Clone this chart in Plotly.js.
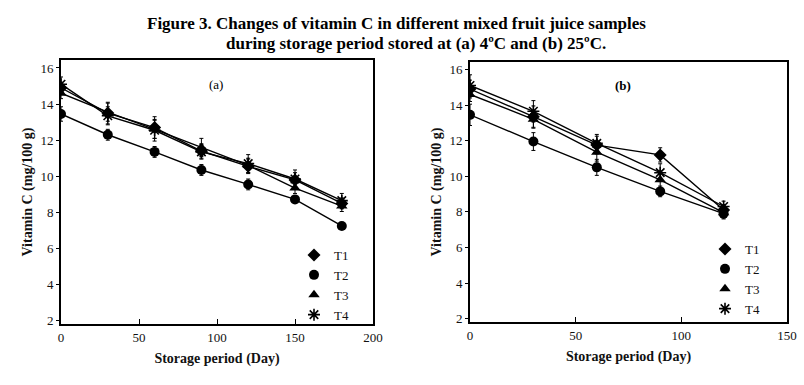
<!DOCTYPE html>
<html><head><meta charset="utf-8">
<script src="https://cdn.plot.ly/plotly-3.0.1.min.js"></script>
<style>html,body{margin:0;padding:0;background:#fff}#chart{width:804px;height:385px}</style>
</head><body><div id="chart"></div><script>
// Panel (a): stored at 4 C
const daysA = [0, 30, 60, 90, 120, 150, 180];
const t1A = [14.9, 13.5, 12.7, 11.4, 10.55, 9.8, 8.5];
const t2A = [13.45, 12.3, 11.35, 10.35, 9.55, 8.72, 7.25];
const t3A = [14.6, 13.55, 12.6, 11.6, 10.6, 9.35, 8.35];
const t4A = [15.1, 13.35, 12.55, 11.35, 10.7, 9.85, 8.65];
const e1A = [0.3, 0.6, 0.6, 0.4, 0.4, 0.4, 0.3];
const e2A = [0.4, 0.3, 0.3, 0.3, 0.3, 0.2, 0.15];
const e3A = [0.3, 0.5, 0.5, 0.5, 0.4, 0.3, 0.3];
const e4A = [0.4, 0.5, 0.6, 0.4, 0.5, 0.5, 0.4];
// Panel (b): stored at 25 C
const daysB = [0, 30, 60, 90, 120];
const t1B = [14.9, 13.35, 11.75, 11.2, 8.1];
const t2B = [13.45, 11.95, 10.5, 9.15, 7.9];
const t3B = [14.6, 13.2, 11.35, 9.8, 7.95];
const t4B = [15.1, 13.65, 11.85, 10.2, 8.3];
const e1B = [0.5, 0.6, 0.5, 0.4, 0.3];
const e2B = [0.6, 0.5, 0.45, 0.3, 0.3];
const e3B = [0.4, 0.5, 0.5, 0.5, 0.3];
const e4B = [0.6, 0.6, 0.5, 0.5, 0.3];
const seriesNames = ['T1', 'T2', 'T3', 'T4'];
const titleLine1 = 'Figure 3. Changes of vitamin C in different mixed fruit juice samples';
const titleLine2 = 'during storage period stored at (a) 4ºC and (b) 25ºC.';
const xTitle = 'Storage period (Day)';
const yTitle = 'Vitamin C (mg/100 g)';

const FONT = 'Liberation Serif, Times New Roman, serif';
const markers = [
  {symbol: 'diamond', size: 10},
  {symbol: 'circle', size: 10},
  {symbol: 'triangle-up', size: 10},
  {symbol: 'asterisk-open', size: 10}
];

function mk(x, y, e, i, xa, ya) {
  return {
    x: x, y: y, type: 'scatter', mode: 'lines+markers', name: seriesNames[i],
    showlegend: false, xaxis: xa, yaxis: ya,
    line: {color: '#000', width: 1.4},
    marker: {color: '#000', symbol: markers[i].symbol, size: markers[i].size,
             line: {color: '#000', width: markers[i].symbol === 'asterisk-open' ? 1.6 : 0}},
    error_y: {type: 'data', array: e, visible: true, color: '#000', thickness: 1, width: 2}
  };
}
function leg(i, lg) {
  return {
    x: [null], y: [null], type: 'scatter', mode: 'markers', name: seriesNames[i],
    legend: lg, xaxis: lg === 'legend' ? 'x' : 'x2', yaxis: lg === 'legend' ? 'y' : 'y2',
    marker: {color: '#000', symbol: markers[i].symbol, size: markers[i].size,
             line: {color: '#000', width: markers[i].symbol === 'asterisk-open' ? 1.6 : 0}}
  };
}

const data = [
  mk(daysA, t1A, e1A, 0, 'x', 'y'), mk(daysA, t2A, e2A, 1, 'x', 'y'),
  mk(daysA, t3A, e3A, 2, 'x', 'y'), mk(daysA, t4A, e4A, 3, 'x', 'y'),
  mk(daysB, t1B, e1B, 0, 'x2', 'y2'), mk(daysB, t2B, e2B, 1, 'x2', 'y2'),
  mk(daysB, t3B, e3B, 2, 'x2', 'y2'), mk(daysB, t4B, e4B, 3, 'x2', 'y2'),
  leg(0, 'legend'), leg(1, 'legend'), leg(2, 'legend'), leg(3, 'legend'),
  leg(0, 'legend2'), leg(1, 'legend2'), leg(2, 'legend2'), leg(3, 'legend2')
];

function xax(dom, rng, anchor) {
  return {domain: dom, range: rng, anchor: anchor, dtick: 50, tick0: 0,
    showgrid: false, zeroline: false, showline: true, mirror: true,
    linecolor: '#000', linewidth: 2, ticks: 'inside', ticklen: 5, tickcolor: '#000',
    tickfont: {family: FONT, size: 13, color: '#111'},
    title: {text: '<b>' + xTitle + '</b>', font: {family: FONT, size: 14, color: '#111'}, standoff: 10}};
}
function yax(dom, rng, anchor) {
  return {domain: dom, range: rng, anchor: anchor, dtick: 2, tick0: 0,
    showgrid: false, zeroline: false, showline: true, mirror: true,
    linecolor: '#000', linewidth: 2, ticks: 'outside', ticklen: 3, tickcolor: '#000',
    tickfont: {family: FONT, size: 13, color: '#111'},
    title: {text: '<b>' + yTitle + '</b>', font: {family: FONT, size: 14, color: '#111'}, standoff: 5}};
}

const layout = {
  width: 804, height: 385, margin: {l: 0, r: 0, t: 0, b: 0},
  paper_bgcolor: '#fff', plot_bgcolor: '#fff',
  font: {family: FONT, color: '#000'},
  xaxis: xax([61/804, 373/804], [0, 200], 'y'),
  yaxis: yax([61/385, 325/385], [1.82, 16.44], 'x'),
  xaxis2: xax([470/804, 787/804], [0, 150], 'y2'),
  yaxis2: yax([63/385, 323/385], [1.81, 16.42], 'x2'),
  legend: {x: 294/804, y: (385-240)/385, xanchor: 'left', yanchor: 'top',
    bgcolor: 'rgba(0,0,0,0)', font: {family: FONT, size: 13, color: '#111'}, itemwidth: 30},
  legend2: {x: 705/804, y: (385-234)/385, xanchor: 'left', yanchor: 'top',
    bgcolor: 'rgba(0,0,0,0)', font: {family: FONT, size: 13, color: '#111'}, itemwidth: 30},
  annotations: [
    {text: '<b>' + titleLine1 + '</b>', xref: 'paper', yref: 'paper', x: 396/804, y: (385-23)/385,
     yanchor: 'middle', showarrow: false, font: {family: FONT, size: 17, color: '#000'}},
    {text: '<b>' + titleLine2 + '</b>', xref: 'paper', yref: 'paper', x: 416/804, y: (385-43)/385,
     yanchor: 'middle', showarrow: false, font: {family: FONT, size: 17, color: '#000'}},
    {text: '(a)', xref: 'paper', yref: 'paper', x: 207/804, y: (385-85)/385,
     yanchor: 'middle', showarrow: false, font: {family: FONT, size: 13, color: '#000'}},
    {text: '<b>(b)</b>', xref: 'paper', yref: 'paper', x: 633/804, y: (385-86)/385,
     yanchor: 'middle', showarrow: false, font: {family: FONT, size: 13, color: '#000'}}
  ]
};

Plotly.newPlot('chart', data, layout, {displayModeBar: false, staticPlot: true});
</script></body></html>
